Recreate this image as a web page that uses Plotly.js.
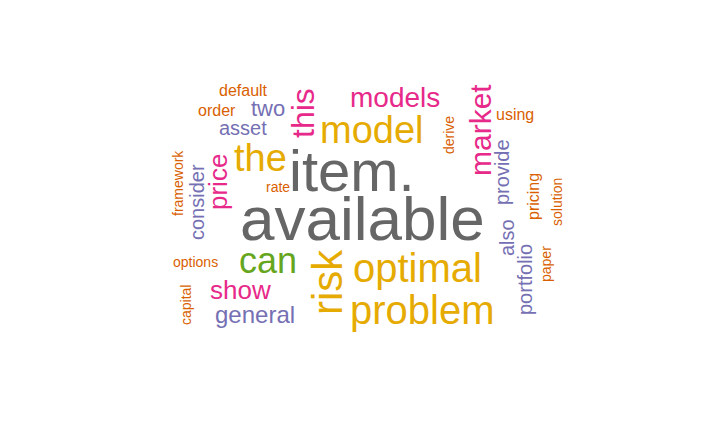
<!DOCTYPE html>
<html>
<head>
<meta charset="utf-8">
<script src="https://cdn.plot.ly/plotly-3.0.1.min.js"></script>
<style>body{margin:0;background:#fff}#plot{width:725px;height:432px}</style>
</head>
<body>
<div id="plot"></div>
<script>
// word cloud data
//
const words  = ['available','item.','optimal','problem','model','the','risk','can','models','this','market','price','show','general','two','asset','consider','provide','also','portfolio','default','order','framework','options','capital','rate','derive','using','pricing','paper','solution'];
const xPos   = [362,352,417,422,372,260,327,268,395,303,480,218,240,255,268,243,197,502,507,525,243,217,178,195,186,278,449,515,533,546,557];
const yPos   = [218,170,268,310,130,158,282,260,97,113,130,182,290,314,108,128,202,172,238,280,90,110,183,262,305,187,135,114,197,264,202];
const sizes  = [62,58,40,40,38,38,42,36,28,32,30,26,26,24,22,20,20,20,20,20,16,16,14,14,14,14,14,16,16,14,14];
const angles = [0,0,0,0,0,0,-90,0,0,-90,-90,-90,0,0,0,0,-90,-90,-90,-90,0,0,-90,0,-90,0,-90,0,-90,-90,-90];
const groups = ['g','g','y','y','y','y','y','n','p','p','p','p','p','u','u','u','u','u','u','u','o','o','o','o','o','o','o','o','o','o','o'];
const palette = {g:'#666666', y:'#E6AB02', n:'#66A61E', p:'#E7298A', u:'#7570B3', o:'#D95F02'};

const annotations = words.map((w, i) => ({
  x: xPos[i], y: yPos[i], xref: 'x', yref: 'y', text: w, showarrow: false,
  textangle: angles[i], xanchor: 'center', yanchor: 'middle',
  font: {family: 'Liberation Sans, Arial, sans-serif', size: sizes[i], color: palette[groups[i]]}
}));

const layout = {
  width: 725, height: 432,
  margin: {t: 0, b: 0, l: 0, r: 0},
  paper_bgcolor: '#fff', plot_bgcolor: '#fff',
  xaxis: {range: [0, 725], visible: false, fixedrange: true},
  yaxis: {range: [432, 0], visible: false, fixedrange: true},
  showlegend: false,
  annotations: annotations
};

Plotly.newPlot('plot', [{x: [], y: [], type: 'scatter'}], layout, {displayModeBar: false, staticPlot: true});
</script>
</body>
</html>
